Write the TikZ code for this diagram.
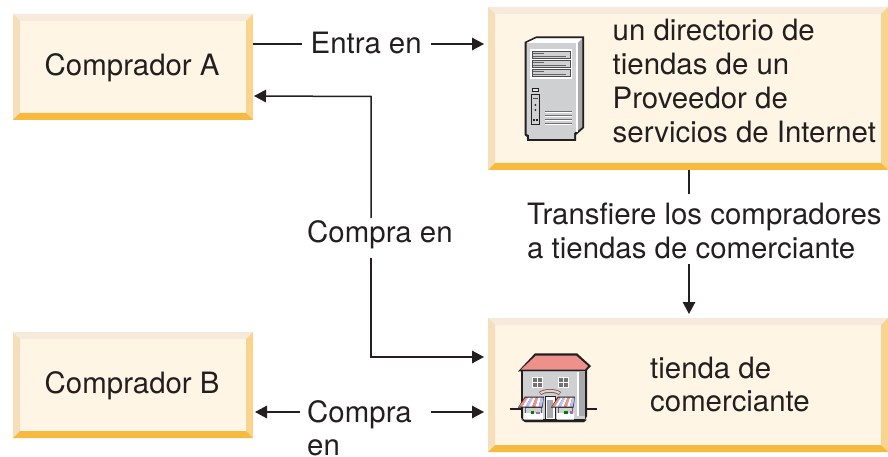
\documentclass[tikz,border=0pt]{standalone}
\usepackage{fontspec}
\setmainfont{TeX Gyre Heros}
\usetikzlibrary{arrows.meta}
\definecolor{boxfill}{HTML}{FEF5E5}
\definecolor{bevtop}{HTML}{F6EADC}
\definecolor{bevleft}{HTML}{F5DFBA}
\definecolor{bevright}{HTML}{F8D48E}
\definecolor{bevbot}{HTML}{F8B93F}
\definecolor{ink}{HTML}{231F20}
\definecolor{roof}{HTML}{EE918A}
\definecolor{wallc}{HTML}{CFD0D2}
\definecolor{wallr}{HTML}{A7A9AC}
\tikzset{
  x=1pt,y=-1pt,
  lbl/.style={font=\fontsize{29.4}{35}\selectfont,text=ink,inner sep=0pt,align=left},
  wire/.style={draw=ink,line width=1.5pt},
  arr/.style={wire,-{Triangle[length=12pt,width=12.5pt]}},
}
\newcommand{\bevelbox}[5]{% name x0 y0 x1 y1
  \fill[boxfill] (#2,#3) rectangle (#4,#5);
  \fill[bevtop] (#2,#3) -- (#4,#3) -- (#4-7,#3+7) -- (#2+7,#3+7) -- cycle;
  \fill[bevleft] (#2,#3) -- (#2+7,#3+7) -- (#2+7,#5-7) -- (#2,#5) -- cycle;
  \fill[bevright] (#4,#3) -- (#4-7,#3+7) -- (#4-7,#5-7) -- (#4,#5) -- cycle;
  \fill[bevbot] (#2,#5) -- (#2+7,#5-7) -- (#4-7,#5-7) -- (#4,#5) -- cycle;
  \node[inner sep=0pt,outer sep=0pt,minimum width={#4-#2},minimum height={#5-#3}] (#1) at ({(#2+#4)/2},{(#3+#5)/2}) {};
}
\begin{document}
\begin{tikzpicture}
\useasboundingbox (0,0) rectangle (888,457);
\bevelbox{A}{13}{14}{253}{120}
\bevelbox{B}{13}{332}{253}{438}
\bevelbox{D}{488}{7}{888}{170}
\bevelbox{T}{488}{318}{888}{452}
\node[lbl,anchor=base west] (ta) at (44.5,75.5) {Comprador A};
\node[lbl,anchor=base west] (tb) at (44.5,393.5) {Comprador B};
\node[lbl,anchor=base west] (td1) at (612.5,41) {un directorio de};
\node[lbl,anchor=base west] (td2) at (612.5,75) {tiendas de un};
\node[lbl,anchor=base west] (td3) at (612.5,109) {Proveedor de};
\node[lbl,anchor=base west] (td4) at (612.5,143) {servicios de Internet};
\node[lbl,anchor=base west] (tt1) at (650,378) {tienda de};
\node[lbl,anchor=base west] (tt2) at (650,411) {comerciante};
\node[lbl,anchor=base west] (l1) at (310.5,53.5) {Entra en};
\node[lbl,anchor=base west] (l2) at (307,242) {Compra en};
\node[lbl,anchor=base west] (l3a) at (527,224) {Transfiere los compradores};
\node[lbl,anchor=base west] (l3b) at (527,258) {a tiendas de comerciante};
\node[lbl,anchor=base west] (l4a) at (307,422) {Compra};
\node[lbl,anchor=base west] (l4b) at (307,455) {en};
% connectors
\coordinate (a1s) at ([yshift=23pt]A.east);
\coordinate (a1e) at ([xshift=-9pt]l1.west |- a1s);
\coordinate (a2s) at ([xshift=9pt]l1.east |- a1s);
\coordinate (a2e) at ([xshift=-4pt]D.west |- a1s);
\draw[wire] (a1s) -- (a1e);
\draw[arr] (a2s) -- (a2e);
\coordinate (b1) at ([xshift=1pt,yshift=-29pt]A.east);
\coordinate (b2) at (371,96.5);
\coordinate (b3) at (371,218);
\coordinate (b4) at (371,258);
\coordinate (b5) at (371,357);
\coordinate (b6) at ([xshift=-4pt]T.west |- b5);
\draw[arr] (b3) -- (b2) -- (b1);
\draw[arr] (b4) -- (b5) -- (b6);
\coordinate (c1) at (689,170);
\coordinate (c2) at (689,194);
\coordinate (c3) at (689,264);
\coordinate (c4) at (689,314);
\draw[wire] (c1) -- (c2);
\draw[arr] (c3) -- (c4);
\coordinate (d1) at (300,412);
\coordinate (d2) at ([xshift=2pt]B.east |- d1);
\coordinate (d3) at (431,412);
\coordinate (d4) at ([xshift=-4pt]T.west |- d3);
\draw[arr] (d1) -- (d2);
\draw[arr] (d3) -- (d4);
% server icon
\begin{scope}[shift={(490,0)}]
\fill[ink] (34.5,42) -- (46,36.5) -- (94,36.5) -- (94,128) -- (86,135) -- (86,141) -- (37,141) -- (37,137) -- (34.5,135) -- cycle;
\fill[wallc] (36.5,43) -- (46,38.5) -- (92,38.5) -- (92,127) -- (84,133) -- (84,139) -- (39,139) -- (39,135) -- (36.5,134) -- cycle;
\fill[white] (36.5,43) -- (46,38.5) -- (92,38.5) -- (87,43) -- cycle;
\fill[wallr] (87.5,43.5) -- (92,39) -- (92,127) -- (87.5,131) -- cycle;
\fill[white] (86,43) rectangle (87.5,132);
\fill[white] (40,49) rectangle (82,79);
\foreach \y in {51,60,69}{
  \fill[ink!80] (41.5,\y) rectangle (81,\y+8);
  \fill[wallc] (42.5,\y+1) rectangle (80,\y+7);
  \fill[ink!70] (43,\y+2.5) rectangle (54,\y+3.5);
  \fill[ink!70] (43,\y+5) rectangle (76,\y+6);
}
\draw[ink,line width=1pt,fill=white!90!black] (42,88.5) rectangle (48,92);
\fill[ink] (41,94) rectangle (50,125);
\fill[wallc] (42,95.5) rectangle (49,124);
\fill[ink!80] (43,98) rectangle (48,99);
\fill[ink] (45.3,105) circle (1);
\fill[ink] (45.3,110) circle (1);
\fill[ink] (43,119.5) rectangle (45,121);
\fill[ink] (46,119.5) rectangle (48,121);
\foreach \y in {111,115,119,123}{
  \fill[white] (55,\y+1) rectangle (82,\y+2);
  \fill[ink!65] (55,\y) rectangle (82,\y+1);
}
\end{scope}
% store icon
\begin{scope}[shift={(480,310)}]
\coordinate (gl) at (30,99);
\coordinate (gr) at (117,99);
\draw[ink,line width=1.3pt] (gl) -- (gr);
% walls
\fill[ink] (41,58) -- (41,108) -- (45,112) -- (104,112) -- (107,106) -- (107,58) -- cycle;
\fill[wallc] (43,58) rectangle (105,109);
\fill[wallr] (97,60) rectangle (105,106);
\fill[white] (97,60) rectangle (98.5,106);
% roof
\fill[ink] (38,61.5) -- (55,43.3) -- (97,43.3) -- (111,56) -- (106,61) -- cycle;
\fill[roof] (41,59.5) -- (56,45.5) -- (96,45.5) -- (108,56) -- (105,59.5) -- cycle;
\fill[wallr] (43,61) rectangle (105,62);
% windows
\foreach \x in {52,78}{
  \fill[white] (\x,67) rectangle (\x+11,78);
  \fill[white!45!black] (\x+1,68) rectangle (\x+10,77);
  \fill[white] (\x+5,68) rectangle (\x+6,77);
  \fill[white] (\x+1,72) rectangle (\x+10,73);
}
% arch and door
\fill[ink!70] (59,82) .. controls (64,78) and (76,78) .. (81,82) -- (79,85) .. controls (75,82) and (65,82) .. (61,85) -- cycle;
\fill[roof!50!white] (60,82.5) .. controls (64,79) and (76,79) .. (80,82.5) -- (79,84) .. controls (75,81) and (65,81) .. (61,84) -- cycle;
\fill[ink] (64.5,86) rectangle (75.5,109);
\fill[white] (65.5,87) rectangle (74.5,109);
\fill[wallr] (67,90) rectangle (73,108);
% awnings
\foreach \x/\w in {39/23,72/21}{
  \fill[white!40!black] (\x+6,97) rectangle (\x+\w,107);
  \fill[wallc] (\x+7,98) rectangle (\x+\w-1,104);
  \fill[white] (\x+5,103) rectangle (\x+\w+1,110);
  \fill[ink] (\x-1,97.5) -- (\x+6,86.5) -- (\x+\w+2,86.5) -- (\x+\w+0.5,97.5) -- cycle;
  \foreach \i/\c in {0/roof,1/white,2/blue!25!white,3/white,4/roof,5/white,6/blue!25!white}{
    \fill[\c] ({\x+\i*\w/7},96.5) -- ({\x+6.5+\i*(\w-5)/7},87.5) -- ({\x+6.5+(\i+1)*(\w-5)/7},87.5) -- ({\x+(\i+1)*\w/7},96.5) -- cycle;
  }
}
\fill[green!50!black] (51,101) rectangle (54,104);
\fill[violet!60] (56,102) rectangle (60,104);
\fill[green!50!black] (84,101) rectangle (88,104);
\fill[violet!60] (90,101) rectangle (93,104);
\fill[ink] (41,109.5) -- (107,109.5) -- (104,112) -- (45,112) -- cycle;
\end{scope}
\end{tikzpicture}
\end{document}
